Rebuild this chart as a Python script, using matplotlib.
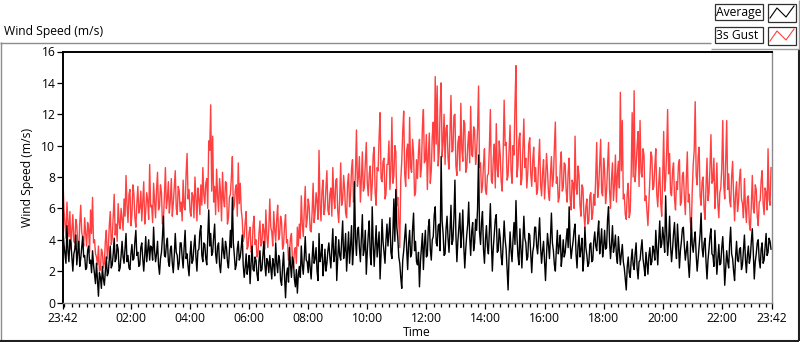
import numpy as np
import matplotlib
matplotlib.use("Agg")
import matplotlib.pyplot as plt
from matplotlib.lines import Line2D
from matplotlib.patches import Rectangle

plt.rcParams['font.family'] = ['Open Sans', 'DejaVu Sans']

# ---- data: 2-minute samples starting 23:42, 30 samples per hour ----
gust = [
    7.8, 5.9, 5.0, 4.1, 6.4, 5.2, 4.2, 5.8, 3.4, 4.6, 5.6, 3.9, 3.8, 5.3, 4.9, 3.7, 3.3, 5.0, 6.2, 4.5, 4.1, 3.6, 5.4, 4.4, 3.6, 5.1, 4.7, 3.2, 5.9, 4.4,
    6.7, 3.8, 4.0, 3.1, 2.9, 2.4, 3.6, 2.0, 2.1, 3.4, 3.2, 2.2, 2.5, 3.9, 4.6, 2.8, 3.4, 4.9, 5.8, 3.7, 4.1, 5.5, 6.9, 4.3, 5.0, 3.9, 6.3, 5.1, 4.7, 6.0,
    5.3, 4.6, 6.6, 5.5, 8.1, 6.2, 5.1, 6.9, 7.2, 4.9, 5.6, 7.5, 6.9, 5.4, 4.8, 6.3, 7.4, 5.7, 6.0, 7.1, 5.2, 6.4, 7.7, 5.0, 5.8, 7.0, 6.5, 5.3, 8.8, 6.1,
    6.2, 5.1, 7.6, 6.4, 5.4, 7.2, 8.3, 5.9, 6.1, 7.5, 7.0, 5.0, 5.3, 6.8, 8.6, 6.0, 6.6, 7.7, 5.7, 6.5, 7.9, 5.5, 6.3, 7.3, 8.4, 6.0, 5.6, 7.4, 7.1, 5.8,
    6.4, 5.2, 7.8, 6.1, 5.9, 8.2, 9.5, 6.6, 7.2, 5.8, 5.5, 7.0, 6.8, 5.4, 8.0, 6.7, 5.2, 7.3, 6.6, 5.6, 7.5, 6.2, 8.6, 6.9, 6.3, 7.6, 7.9, 6.0, 10.3, 9.7,
    12.6, 7.1, 10.6, 6.4, 7.4, 5.6, 8.5, 6.8, 5.8, 7.9, 7.0, 5.2, 8.3, 6.6, 6.1, 7.7, 7.6, 5.0, 5.4, 6.7, 6.9, 8.0, 9.3, 5.9, 6.2, 7.2, 7.5, 5.5, 8.9, 6.3,
    7.6, 5.9, 5.3, 3.9, 4.2, 5.1, 5.8, 3.4, 3.6, 4.5, 4.8, 3.2, 3.3, 4.9, 5.5, 3.7, 4.0, 2.9, 3.1, 4.4, 5.2, 3.6, 3.8, 5.0, 4.6, 3.4, 5.9, 4.3, 3.5, 4.7,
    6.6, 4.8, 4.5, 3.6, 5.8, 4.6, 3.9, 5.3, 6.2, 4.0, 4.3, 5.5, 5.1, 3.4, 3.7, 4.9, 5.6, 3.8, 4.0, 2.7, 3.2, 4.1, 4.4, 2.6, 2.2, 3.3, 3.5, 2.5, 4.8, 3.6,
    5.0, 4.1, 6.8, 5.0, 4.2, 5.9, 7.4, 4.8, 5.3, 6.6, 6.1, 4.6, 4.5, 5.8, 7.6, 5.1, 5.7, 7.0, 6.4, 5.3, 9.7, 6.2, 5.2, 7.1, 7.8, 5.6, 6.0, 7.3, 8.4, 5.9,
    5.6, 6.9, 7.3, 5.5, 8.6, 6.7, 6.0, 7.8, 7.9, 5.8, 5.1, 6.6, 8.9, 6.2, 6.5, 8.1, 7.2, 5.7, 5.4, 7.6, 8.2, 6.1, 6.8, 8.5, 9.1, 6.4, 7.0, 8.3, 11.0, 7.4,
    8.0, 9.3, 6.4, 7.8, 9.6, 7.1, 7.3, 8.9, 10.2, 7.6, 6.8, 8.2, 8.7, 6.5, 7.5, 9.4, 9.9, 7.0, 6.2, 8.6, 8.4, 10.5, 12.1, 7.9, 7.7, 9.0, 9.2, 6.6, 6.9, 8.8,
    8.8, 10.3, 7.2, 8.5, 11.8, 7.6, 8.1, 10.0, 9.6, 6.2, 6.7, 5.1, 3.5, 7.8, 9.0, 10.9, 12.2, 8.2, 7.4, 9.7, 10.1, 7.9, 11.8, 8.6, 8.3, 10.4, 9.5, 6.8, 7.0, 9.1,
    7.9, 9.6, 10.4, 8.0, 8.6, 11.2, 12.3, 8.9, 9.1, 10.7, 7.2, 9.4, 10.8, 7.6, 8.4, 10.6, 11.5, 9.0, 14.4, 10.1, 13.8, 8.7, 9.6, 12.4, 14.0, 9.3, 10.2, 12.0, 8.8, 11.1,
    11.3, 9.2, 8.5, 10.8, 13.2, 9.6, 9.7, 11.9, 12.0, 8.7, 8.1, 10.2, 10.6, 8.4, 12.7, 9.8, 9.0, 11.6, 11.4, 8.3, 8.6, 10.0, 10.9, 8.9, 12.5, 9.4, 9.3, 11.2, 11.0, 8.8,
    9.5, 11.1, 13.8, 8.6, 8.9, 7.0, 7.4, 8.8, 9.8, 7.2, 6.9, 8.1, 8.2, 9.9, 12.3, 7.8, 7.6, 9.2, 10.1, 7.3, 11.4, 8.5, 8.0, 10.3, 9.4, 7.7, 7.1, 9.6, 12.9, 10.0,
    10.2, 7.8, 8.1, 9.7, 11.3, 8.4, 7.6, 10.0, 9.4, 12.6, 15.1, 8.0, 8.7, 10.4, 10.8, 7.5, 7.9, 9.8, 11.7, 8.6, 9.2, 7.3, 8.3, 10.1, 10.5, 8.2, 7.4, 9.0, 9.9, 7.7,
    8.6, 6.9, 7.2, 9.0, 10.4, 7.5, 6.8, 8.3, 9.1, 6.6, 7.7, 9.5, 8.4, 7.0, 6.5, 8.1, 9.3, 7.4, 7.9, 9.9, 11.5, 7.6, 8.0, 6.4, 6.7, 8.7, 9.6, 7.1, 7.3, 8.9,
    8.8, 7.1, 6.4, 8.3, 9.2, 6.6, 5.9, 7.8, 7.6, 6.0, 10.6, 7.3, 6.9, 8.7, 8.1, 6.2, 5.5, 7.5, 7.3, 5.6, 4.8, 6.1, 6.6, 5.0, 5.2, 6.8, 7.0, 5.3, 5.7, 6.9,
    6.2, 8.0, 10.2, 6.7, 7.4, 8.8, 10.4, 7.0, 6.8, 9.2, 8.5, 6.3, 7.1, 8.6, 10.2, 7.2, 6.0, 7.9, 8.9, 6.5, 7.5, 9.4, 6.4, 8.2, 9.0, 7.3, 13.4, 8.4, 11.6, 6.6,
    6.9, 5.6, 5.3, 7.0, 7.6, 5.4, 5.8, 8.2, 12.1, 8.0, 13.5, 7.7, 8.7, 10.0, 10.9, 7.4, 11.6, 8.3, 8.0, 9.8, 9.4, 6.5, 6.8, 5.9, 4.9, 6.4, 7.9, 9.6, 9.3, 7.2,
    7.4, 8.7, 9.8, 6.9, 6.1, 7.6, 8.6, 6.3, 5.5, 8.0, 10.9, 7.1, 7.8, 9.5, 12.3, 8.2, 9.5, 7.0, 6.8, 8.4, 8.9, 6.6, 5.9, 7.7, 7.2, 8.8, 9.1, 6.2, 6.4, 8.1,
    8.3, 6.7, 5.6, 7.9, 9.6, 6.4, 6.9, 5.2, 4.6, 7.1, 8.8, 9.7, 12.8, 8.1, 7.5, 9.3, 9.9, 6.8, 6.2, 7.7, 8.0, 6.0, 5.3, 7.4, 9.2, 6.5, 7.0, 8.6, 10.7, 7.6,
    7.8, 9.2, 6.0, 7.1, 8.9, 6.3, 5.4, 7.0, 7.3, 8.6, 11.6, 7.5, 6.6, 9.0, 11.6, 7.2, 8.2, 6.5, 6.1, 8.0, 9.0, 6.8, 5.2, 6.9, 7.7, 5.8, 6.4, 7.9, 8.5, 6.6,
    6.3, 5.4, 7.9, 6.1, 5.1, 6.7, 6.8, 5.0, 4.6, 6.2, 8.1, 6.0, 5.7, 7.5, 7.2, 5.5, 4.9, 6.4, 6.5, 7.8, 8.4, 6.3, 5.6, 7.3, 7.0, 5.9, 9.8, 6.6, 6.2, 8.6,
]

average = [
    4.6, 3.7, 3.1, 2.5, 4.9, 3.3, 2.6, 4.0, 3.8, 2.9, 2.0, 3.1, 3.4, 4.3, 2.4, 3.2, 3.9, 2.3, 2.8, 3.5, 4.2, 2.9, 3.0, 2.1, 2.2, 3.3, 3.6, 2.5, 2.7, 1.9,
    3.3, 2.4, 1.8, 1.2, 2.5, 1.4, 0.4, 1.9, 1.6, 0.9, 2.3, 1.5, 1.1, 2.0, 2.9, 1.7, 1.9, 2.8, 3.6, 2.2, 2.4, 3.1, 4.1, 2.6, 2.8, 3.7, 3.4, 2.0, 2.2, 3.0,
    3.9, 2.9, 2.5, 3.4, 4.4, 2.6, 3.0, 2.2, 2.1, 3.1, 3.7, 2.7, 2.8, 3.9, 4.6, 3.0, 3.2, 2.3, 2.4, 3.5, 3.8, 2.8, 2.0, 3.0, 4.2, 2.6, 3.3, 4.0, 2.7, 3.6,
    3.5, 2.7, 4.8, 3.3, 2.6, 3.1, 3.9, 2.4, 1.8, 2.8, 3.2, 4.2, 5.5, 3.0, 2.9, 3.7, 4.1, 2.6, 2.3, 3.4, 3.6, 2.5, 1.9, 3.0, 4.4, 3.2, 3.0, 2.1, 2.5, 3.8,
    3.8, 2.9, 2.2, 3.5, 4.6, 2.8, 3.1, 2.3, 1.7, 3.0, 3.9, 2.5, 2.7, 3.6, 4.3, 2.9, 2.0, 3.3, 3.4, 4.5, 4.9, 3.0, 2.6, 3.8, 3.7, 2.8, 2.4, 4.1, 5.9, 3.6,
    4.4, 3.0, 3.2, 4.2, 5.0, 3.1, 2.5, 3.6, 3.8, 2.4, 1.9, 2.9, 4.1, 3.2, 2.8, 3.9, 3.5, 2.6, 2.2, 3.3, 4.6, 3.5, 6.7, 3.8, 3.0, 2.1, 2.4, 3.4, 3.9, 2.7,
    2.9, 3.5, 4.3, 2.4, 1.6, 2.2, 3.1, 1.8, 2.3, 3.0, 1.2, 2.5, 3.6, 2.1, 2.0, 2.9, 2.7, 1.8, 1.4, 2.6, 3.3, 2.0, 2.1, 3.0, 3.9, 2.4, 1.7, 2.8, 2.6, 1.9,
    3.0, 2.2, 1.5, 2.8, 2.4, 1.7, 3.8, 2.5, 1.9, 3.0, 2.7, 1.4, 1.1, 2.3, 3.2, 1.6, 0.3, 1.8, 2.2, 1.3, 3.5, 2.4, 1.6, 2.9, 2.6, 1.5, 1.0, 2.1, 0.6, 1.8,
    2.3, 1.6, 3.6, 2.4, 1.8, 2.9, 4.2, 2.7, 2.6, 1.9, 3.1, 2.2, 1.5, 2.8, 3.9, 2.5, 2.8, 3.5, 2.0, 1.4, 4.4, 2.6, 3.0, 3.7, 1.7, 2.4, 3.4, 2.0, 2.5, 3.3,
    3.8, 2.9, 2.2, 3.5, 4.7, 2.6, 3.1, 4.2, 1.4, 2.8, 4.0, 3.0, 2.7, 3.9, 5.2, 2.8, 3.3, 4.4, 2.0, 3.2, 4.5, 2.5, 3.6, 4.9, 2.4, 3.4, 7.7, 4.1, 3.0, 4.6,
    4.8, 3.5, 2.6, 4.1, 5.6, 3.0, 3.4, 4.6, 1.8, 3.2, 4.3, 5.2, 3.0, 2.4, 6.1, 3.8, 2.3, 3.6, 4.9, 2.9, 3.7, 4.5, 1.5, 3.1, 5.3, 3.9, 3.2, 2.5, 4.0, 5.0,
    3.6, 4.5, 5.4, 3.2, 2.8, 4.4, 6.6, 3.9, 7.2, 4.8, 4.1, 2.9, 2.5, 1.6, 0.9, 2.7, 3.3, 4.2, 5.0, 3.4, 2.1, 3.8, 4.6, 2.9, 3.1, 4.7, 5.7, 3.3, 3.9, 2.6,
    2.4, 3.2, 1.0, 2.6, 3.5, 4.4, 2.1, 3.7, 4.6, 2.9, 3.0, 4.8, 5.3, 3.4, 2.7, 4.0, 4.2, 5.6, 6.1, 3.8, 3.6, 4.9, 5.0, 3.3, 9.3, 5.2, 4.4, 3.0, 3.1, 4.7,
    5.5, 4.1, 3.2, 4.6, 6.2, 3.7, 4.0, 5.4, 7.8, 4.3, 2.6, 3.9, 4.8, 5.7, 3.5, 4.4, 5.9, 3.6, 2.2, 3.4, 4.3, 5.0, 6.4, 4.2, 3.0, 4.5, 5.1, 3.3, 3.8, 5.3,
    4.6, 6.0, 9.4, 4.5, 3.7, 5.1, 5.8, 3.4, 2.5, 4.0, 4.9, 3.6, 3.1, 4.6, 6.3, 3.9, 2.0, 3.5, 4.4, 5.3, 5.6, 3.2, 3.3, 4.7, 4.1, 2.9, 2.4, 3.8, 5.2, 4.0,
    3.4, 2.1, 0.8, 3.0, 4.5, 3.3, 2.6, 4.0, 5.1, 3.7, 6.5, 4.2, 3.0, 2.4, 4.7, 3.5, 2.2, 3.9, 5.5, 4.1, 3.8, 2.7, 2.9, 4.4, 4.3, 3.1, 1.9, 3.2, 3.6, 4.8,
    4.8, 3.6, 3.1, 4.2, 5.4, 3.5, 2.5, 3.3, 3.9, 2.6, 1.4, 3.0, 4.4, 3.7, 2.8, 4.1, 5.7, 3.8, 3.3, 2.4, 2.0, 3.4, 4.6, 3.1, 3.6, 4.3, 2.3, 3.0, 4.0, 2.9,
    3.2, 4.0, 4.7, 3.5, 6.1, 3.8, 2.8, 3.4, 3.9, 4.6, 5.0, 3.1, 2.2, 3.6, 4.3, 2.9, 3.4, 4.1, 2.0, 2.8, 4.8, 3.5, 3.0, 2.3, 2.5, 3.7, 3.8, 2.6, 2.7, 3.9,
    4.5, 3.6, 3.3, 4.4, 5.2, 3.1, 3.8, 4.7, 2.9, 3.5, 4.6, 3.4, 3.5, 5.3, 6.1, 3.9, 2.8, 3.7, 4.9, 3.2, 3.6, 4.3, 3.0, 2.5, 4.2, 3.3, 2.4, 3.1, 3.7, 2.6,
    2.2, 1.5, 0.8, 2.3, 2.9, 1.9, 1.6, 2.7, 3.4, 2.4, 2.1, 3.1, 3.8, 2.2, 1.5, 2.6, 2.7, 3.4, 4.0, 2.8, 2.3, 1.7, 3.2, 2.5, 1.8, 3.0, 3.5, 2.4, 2.6, 3.6,
    3.3, 2.7, 4.6, 3.4, 2.4, 3.9, 5.2, 3.5, 3.7, 4.8, 4.1, 3.2, 6.8, 4.5, 3.0, 3.9, 5.5, 3.6, 2.6, 3.4, 4.4, 5.1, 3.6, 2.8, 5.0, 3.8, 2.2, 3.3, 3.9, 4.7,
    4.8, 3.6, 2.7, 3.3, 3.9, 2.5, 1.6, 2.9, 5.4, 3.7, 3.2, 4.0, 4.5, 3.0, 2.0, 2.8, 3.6, 4.4, 5.7, 3.5, 2.9, 3.8, 4.1, 2.6, 1.5, 2.7, 3.4, 4.2, 4.7, 3.1,
    3.0, 2.3, 4.6, 3.2, 1.8, 2.7, 3.7, 2.4, 2.5, 3.5, 4.2, 2.9, 1.1, 2.2, 3.3, 2.6, 2.2, 3.8, 4.8, 3.1, 2.8, 2.0, 1.4, 2.9, 3.9, 2.7, 2.6, 3.4, 3.5, 2.1,
    2.4, 3.3, 4.3, 2.8, 1.9, 3.0, 3.6, 2.5, 2.9, 3.9, 4.7, 3.2, 1.5, 2.6, 3.1, 3.8, 4.0, 2.7, 2.2, 3.4, 3.8, 2.5, 2.7, 3.6, 4.4, 3.0, 3.2, 4.1, 3.9, 3.4,
]

sample_minutes = 2
tick_labels = ["23:42", "02:00", "04:00", "06:00", "08:00", "10:00", "12:00",
               "14:00", "16:00", "18:00", "20:00", "22:00", "23:42"]
series_names = ["Average", "3s Gust"]
y_ticks = [0, 2, 4, 6, 8, 10, 12, 14, 16]

# time in hours since 23:42
t_gust = np.arange(len(gust)) * sample_minutes / 60.0
t_avg = np.arange(len(average)) * sample_minutes / 60.0
start_h = 23 + 42 / 60.0
def hours_since_start(lbl):
    h, m = map(int, lbl.split(":"))
    v = h + m / 60.0 - start_h
    return v if v > 0 else v + 24
major_pos = [0.0] + [hours_since_start(l) for l in tick_labels[1:-1]] + [24.0]
minor_pos = np.arange(0.05, 24.0, 0.25)

W, H = 800, 342
fig = plt.figure(figsize=(W / 100, H / 100), dpi=100)
fig.patch.set_facecolor('white')

def fx(x): return x / W
def fy(y): return 1 - y / H

FS = 8.7
ax = fig.add_axes([fx(63), fy(302.5), fx(772) - fx(63), fy(51.5) - fy(302.5)])
ax.plot(t_gust, gust, color='#ff4040', lw=1.0, antialiased=True)
ax.plot(t_avg, average, color='black', lw=1.0, antialiased=True)
ax.set_xlim(0, 24)
ax.set_ylim(0, 16)

ax.set_yticks(y_ticks)
ax.set_yticklabels([str(v) for v in y_ticks])
ax.set_xticks(major_pos)
ax.set_xticklabels(tick_labels)
ax.set_xticks(minor_pos, minor=True)
ax.tick_params(axis='both', which='major', direction='out', length=4, width=0.9,
               labelsize=FS, colors='black', pad=1.5)
ax.tick_params(axis='x', which='minor', direction='out', length=3, width=0.9)
ax.tick_params(axis='x', which='major', pad=2.5)

for s in ['top', 'left']:
    ax.spines[s].set_color('black'); ax.spines[s].set_linewidth(1.4)
for s in ['right', 'bottom']:
    ax.spines[s].set_color('#8a8a8a'); ax.spines[s].set_linewidth(1.0)

ax.set_ylabel("Wind Speed (m/s)", fontsize=FS, labelpad=5)

# chart title and axis label
fig.text(fx(4), fy(32), "Wind Speed (m/s)", fontsize=FS, ha='left', va='center')
fig.text(fx(417), fy(332), "Time", fontsize=FS, ha='center', va='center')

# outer panel frame
def fline(x0, y0, x1, y1, color, lw):
    fig.add_artist(Line2D([fx(x0), fx(x1)], [fy(y0), fy(y1)], color=color, lw=lw,
                          transform=fig.transFigure, solid_capstyle='butt'))
fline(0, 42.5, 711, 42.5, '#8c8c8c', 1.0)
fline(0.5, 42, 0.5, 341, '#8c8c8c', 1.0)
fline(0, 340.5, 799, 340.5, '#202020', 1.5)
fline(798.5, 49, 798.5, 341, '#202020', 1.5)
# legend panel
fline(711, 48.5, 799, 48.5, '#a0a0a0', 1.0)
fline(799.3, 0, 799.3, 49, '#a0a0a0', 1.0)

legend_rows = [(4, 20, 'black'), (27, 43, '#ff4040')]
for (y0, y1, col), name in zip(legend_rows, series_names):
    fig.add_artist(Rectangle((fx(715), fy(y1)), fx(763) - fx(715), fy(y0) - fy(y1),
                             transform=fig.transFigure, facecolor='white',
                             edgecolor='#303030', lw=0.9))
    fig.text(fx(716.5), fy((y0 + y1) / 2 + 0.5), name, fontsize=FS, ha='left', va='center')
    fig.add_artist(Rectangle((fx(768), fy(y1 + 2)), fx(796) - fx(768), fy(y0) - fy(y1 + 2),
                             transform=fig.transFigure, facecolor='white',
                             edgecolor='#303030', lw=0.9))
    zx = [770, 777, 786, 794]
    zy = [y0 + 14, y0 + 4, y0 + 13, y0 + 2]
    fig.add_artist(Line2D([fx(v) for v in zx], [fy(v) for v in zy], color=col, lw=0.8,
                          transform=fig.transFigure))

fig.savefig("out.png", dpi=100, facecolor='white')
